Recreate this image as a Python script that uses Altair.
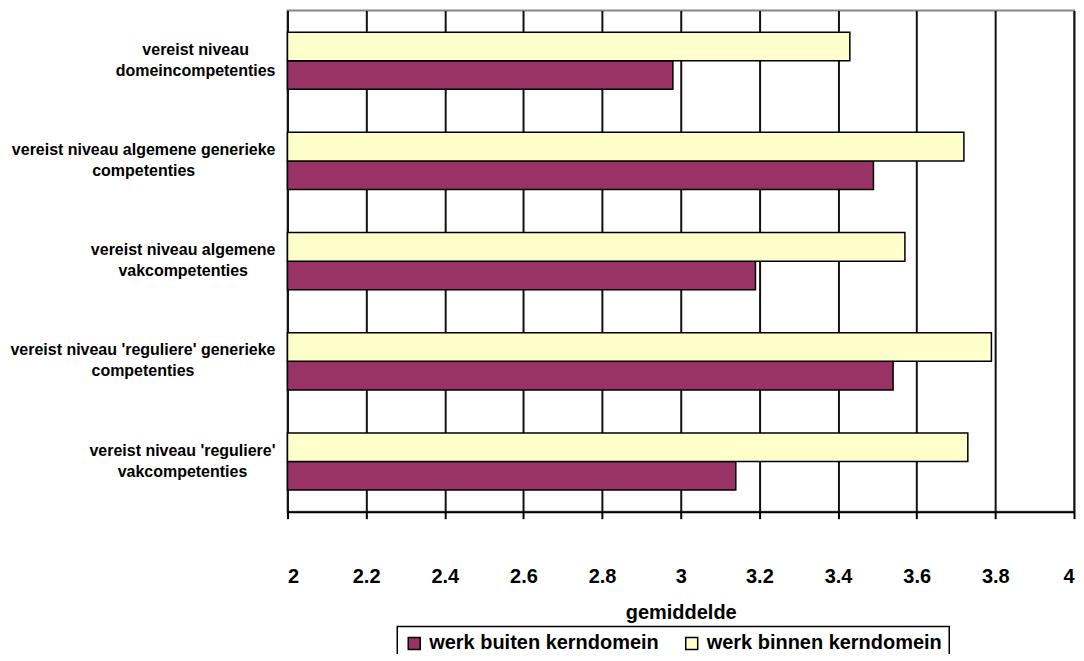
import altair as alt
import pandas as pd

categories = [
    "vereist niveau domeincompetenties",
    "vereist niveau algemene generieke competenties",
    "vereist niveau algemene vakcompetenties",
    "vereist niveau 'reguliere' generieke competenties",
    "vereist niveau 'reguliere' vakcompetenties",
]
label_lines = [
    ["vereist niveau", "domeincompetenties"],
    ["vereist niveau algemene generieke", "competenties"],
    ["vereist niveau algemene", "vakcompetenties"],
    ["vereist niveau 'reguliere' generieke", "competenties"],
    ["vereist niveau 'reguliere'", "vakcompetenties"],
]
series = ["werk buiten kerndomein", "werk binnen kerndomein"]
buiten = [2.98, 3.49, 3.19, 3.54, 3.14]
binnen = [3.43, 3.72, 3.57, 3.79, 3.73]
x_ticks = [2.0, 2.2, 2.4, 2.6, 2.8, 3.0, 3.2, 3.4, 3.6, 3.8, 4.0]
colors = ["#993366", "#FFFFCC"]

rows = []
for c, v1, v2 in zip(categories, buiten, binnen):
    rows.append({"cat": c, "serie": series[0], "val": v1})
    rows.append({"cat": c, "serie": series[1], "val": v2})
df = pd.DataFrame(rows)

# Arial Bold advance widths (per 1000 em) to right-align label blocks with centred lines
AW = {" ": 278, "'": 238, "a": 556, "c": 556, "d": 611, "e": 556, "g": 611, "i": 278,
      "k": 556, "l": 278, "m": 889, "n": 611, "o": 611, "p": 611, "r": 389, "s": 556,
      "t": 333, "u": 611, "v": 556}
FS = 16
def tw(s):
    return sum(AW.get(ch, 556) for ch in s) * FS / 1000.0

lab_rows = []
for c, lines in zip(categories, label_lines):
    bw = max(tw(l) for l in lines)
    lab_rows.append({"cat": c, "txt": "\n".join(lines), "cx": -12 - bw / 2.0})
ldf = pd.DataFrame(lab_rows)

yscale = alt.Scale(domain=categories, paddingInner=0.43, paddingOuter=0.215)

bars = alt.Chart(df).mark_bar(stroke="black", strokeWidth=1.5).encode(
    x=alt.X("val:Q", scale=alt.Scale(domain=[2, 4], nice=False, zero=False),
            axis=alt.Axis(values=x_ticks, format="~g", title="gemiddelde",
                          grid=True, gridColor="#111111", gridWidth=2,
                          domainColor="black", domainWidth=2,
                          tickColor="black", tickWidth=2, tickSize=7,
                          labelFont="Liberation Sans", labelFontSize=20, labelFontWeight="bold",
                          labelColor="black", labelPadding=48,
                          titleFont="Liberation Sans", titleFontSize=20, titleFontWeight="bold",
                          titleColor="black", titlePadding=16)),
    x2=alt.datum(2),
    y=alt.Y("cat:N", scale=yscale, sort=categories,
            axis=alt.Axis(title=None, labels=False, grid=False, tickBand="extent",
                          domainColor="black", domainWidth=2,
                          tickColor="black", tickWidth=2, tickSize=5)),
    yOffset=alt.YOffset("serie:N", sort=[series[1], series[0]],
                        scale=alt.Scale(domain=[series[1], series[0]], paddingInner=0, paddingOuter=0)),
    color=alt.Color("serie:N", scale=alt.Scale(domain=series, range=colors),
                    legend=alt.Legend(title=None, orient="none", legendX=110, legendY=617,
                                      direction="horizontal", columns=2)),
)

labels = alt.Chart(ldf).mark_text(
    align="center", baseline="middle", lineBreak="\n", lineHeight=21, dy=-11,
    font="Liberation Sans", fontSize=FS, fontWeight="bold", color="black"
).encode(
    x=alt.X("cx:Q", scale=None, axis=None),
    y=alt.Y("cat:N", scale=yscale, sort=categories, axis=None),
    text="txt:N",
)

chart = alt.layer(bars, labels).resolve_scale(x="independent").properties(
    width=788, height=502,
    autosize=alt.AutoSizeParams(type="none"),
    padding={"left": 280, "top": 2, "right": 2, "bottom": 142},
).configure_view(
    stroke="#888888", strokeWidth=2
).configure_legend(
    strokeColor="black", strokeWidth=1.5, padding=7,
    symbolType="square", symbolSize=144, symbolStrokeColor="black", symbolStrokeWidth=1.5,
    symbolOpacity=1, labelFont="Liberation Sans", labelFontSize=20, labelFontWeight="bold",
    labelColor="black", labelOffset=5, columnPadding=22, labelLimit=400
)

chart.save("out.html", embed_options={"renderer": "svg", "actions": False})
